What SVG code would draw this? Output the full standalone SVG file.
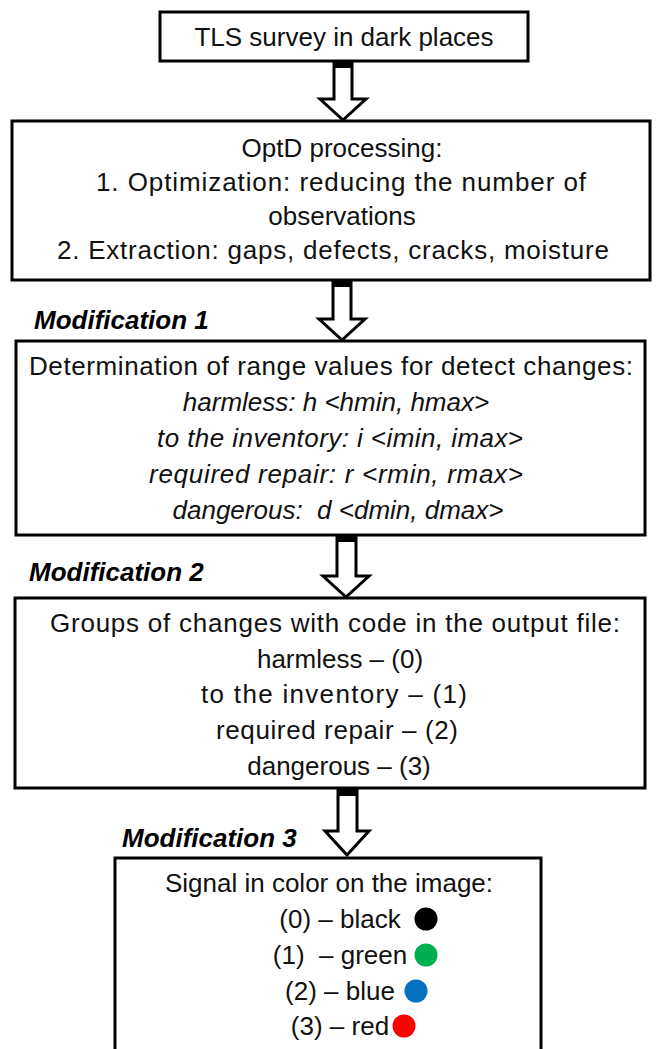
<svg xmlns="http://www.w3.org/2000/svg" width="661" height="1049" viewBox="0 0 661 1049">
<style>
.box{fill:#fff;stroke:#000;stroke-width:3}
.t{font-family:"Liberation Sans",Arial,sans-serif;font-size:26px;fill:#111;text-anchor:middle}
.i{font-style:italic}
.m{font-family:"Liberation Sans",Arial,sans-serif;font-size:26px;font-weight:bold;font-style:italic;fill:#000}
.arr{fill:#fff;stroke:#000;stroke-width:3;stroke-linejoin:miter}
.cap{fill:#000}
</style>
<rect width="661" height="1049" fill="#fff"/>
<g id="connectors">
  <path class="arr" d="M334,62 L352,62 L352,99 L366,99 L343,120 L320,99 L334,99 Z"/>
  <rect class="cap" x="333" y="61" width="20" height="7"/>
  <path class="arr" d="M333,281 L351,281 L351,319 L365,319 L342,340 L319,319 L333,319 Z"/>
  <rect class="cap" x="332" y="280" width="20" height="7"/>
  <path class="arr" d="M337,536 L356,536 L356,576 L369,576 L346,597 L323,576 L337,576 Z"/>
  <rect class="cap" x="336" y="535" width="21" height="7"/>
  <path class="arr" d="M338,790 L357,790 L357,831 L369,831 L347,855 L325,831 L338,831 Z"/>
  <rect class="cap" x="337" y="789" width="21" height="7"/>
</g>
<g id="node1">
  <rect class="box" x="160" y="12" width="368" height="49"/>
  <text class="t" x="344" y="46">TLS survey in dark places</text>
</g>
<g id="node2">
  <rect class="box" x="12" y="121" width="638" height="159"/>
  <text class="t" x="342" y="157">OptD processing:</text>
  <text class="t" x="341" y="191" textLength="490">1. Optimization: reducing the number of</text>
  <text class="t" x="342" y="225">observations</text>
  <text class="t" x="333" y="259" textLength="552">2. Extraction: gaps, defects, cracks, moisture</text>
</g>
<g id="label1">
  <text class="m" x="34" y="329">Modification 1</text>
</g>
<g id="node3">
  <rect class="box" x="16" y="341" width="629" height="194"/>
  <text class="t" x="331" y="375" textLength="604">Determination of range values for detect changes:</text>
  <text class="t i" x="336" y="411">harmless: h &lt;hmin, hmax&gt;</text>
  <text class="t i" x="340" y="447" textLength="366">to the inventory: i &lt;imin, imax&gt;</text>
  <text class="t i" x="336" y="483" textLength="374">required repair: r &lt;rmin, rmax&gt;</text>
  <text class="t i" x="338" y="519" xml:space="preserve">dangerous:  d &lt;dmin, dmax&gt;</text>
</g>
<g id="label2">
  <text class="m" x="29" y="581">Modification 2</text>
</g>
<g id="node4">
  <rect class="box" x="15" y="598" width="630" height="190"/>
  <text class="t" x="335" y="632" textLength="570">Groups of changes with code in the output file:</text>
  <text class="t" x="340" y="668">harmless – (0)</text>
  <text class="t" x="334" y="703" textLength="266">to the inventory – (1)</text>
  <text class="t" x="337" y="739" textLength="242">required repair – (2)</text>
  <text class="t" x="339" y="775">dangerous – (3)</text>
</g>
<g id="label3">
  <text class="m" x="122" y="847">Modification 3</text>
</g>
<g id="node5">
  <rect class="box" x="115" y="858" width="426" height="210"/>
  <text class="t" x="329" y="892">Signal in color on the image:</text>
  <text class="t" x="340" y="928">(0) – black</text>
  <circle cx="426" cy="919" r="11.5" fill="#000"/>
  <text class="t" x="340" y="964" xml:space="preserve">(1)  – green</text>
  <circle cx="426" cy="955" r="11.5" fill="#00B050"/>
  <text class="t" x="340" y="1000">(2) – blue</text>
  <circle cx="416" cy="991" r="11.5" fill="#0070C0"/>
  <text class="t" x="340" y="1035">(3) – red</text>
  <circle cx="404" cy="1026" r="11.5" fill="#FF0000"/>
</g>
</svg>
